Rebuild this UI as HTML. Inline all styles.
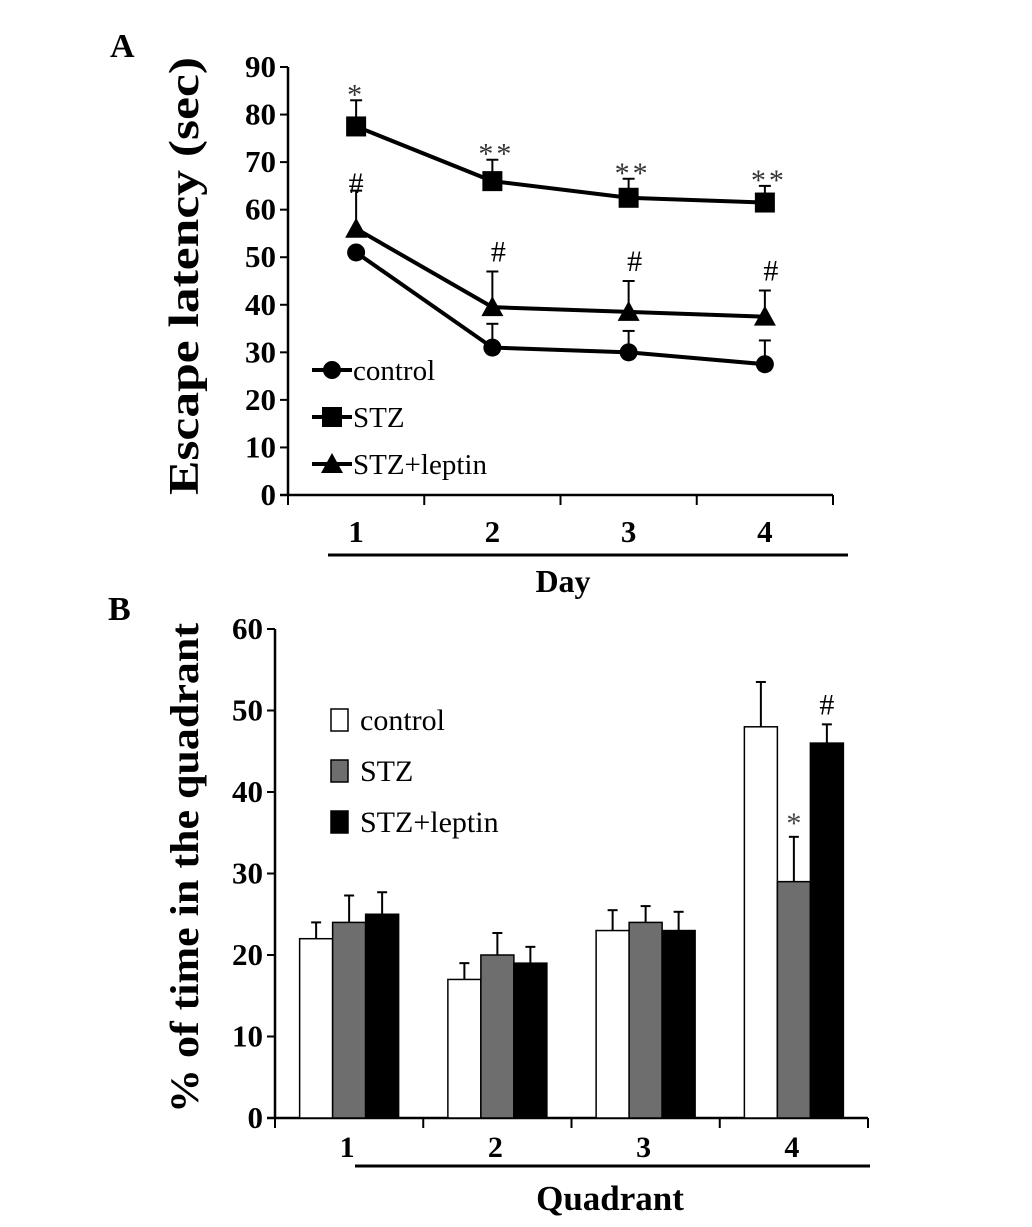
<!DOCTYPE html>
<html><head><meta charset="utf-8"><style>
body{margin:0;background:#fff}
svg{display:block;font-family:"Liberation Serif",serif}
</style></head><body>
<svg id="c" width="1032" height="1227" xmlns="http://www.w3.org/2000/svg"></svg>
<script>
const days=["1","2","3","4"];
const ctrlMean=[51,31,30,27.5];
const ctrlErr=[0,5,4.5,5];
const stzMean=[77.5,66,62.5,61.5];
const stzErr=[5.5,4.5,4,3.5];
const lepMean=[56,39.5,38.5,37.5];
const lepErr=[8,7.5,6.5,5.5];
const stzMarks=["*","**","**","**"];
const lepMarks=["#","#","#","#"];
const aTicks=[0,10,20,30,40,50,60,70,80,90];

const quads=["1","2","3","4"];
const bCtrl=[22,17,23,48];
const bCtrlErr=[2,2,2.5,5.5];
const bStz=[24,20,24,29];
const bStzErr=[3.3,2.7,2,5.5];
const bLep=[25,19,23,46];
const bLepErr=[2.7,2,2.3,2.3];
const bStzMarks=["","","","*"];
const bLepMarks=["","","","#"];
const bTicks=[0,10,20,30,40,50,60];

const svg=document.getElementById('c');
const NS="http://www.w3.org/2000/svg";
function mk(t,a,txt){const e=document.createElementNS(NS,t);for(const k in a)e.setAttribute(k,a[k]);if(txt!==undefined)e.textContent=txt;svg.appendChild(e);return e;}

// Panel A
const ax0=288,ax1=833,ay0=495,ay90=67;
const yA=v=>ay0-(v/90)*(ay0-ay90);
const xA=i=>ax0+(ax1-ax0)/4*(i+0.5);
let e;
e=mk('text',{x:110,y:57,'font-size':34,'font-weight':'bold'},'A');

e=mk('line',{x1:ax0,y1:ay0,x2:ax0,y2:ay90,stroke:'#000','stroke-width':2.5});

e=mk('line',{x1:ax0-8,y1:ay0,x2:ax1,y2:ay0,stroke:'#000','stroke-width':2.5});

aTicks.forEach(v=>{
 e=mk('line',{x1:ax0-8,y1:yA(v),x2:ax0,y2:yA(v),stroke:'#000','stroke-width':2});
 
 e=mk('text',{x:ax0-12,y:yA(v)+10,'font-size':31,'font-weight':'bold','text-anchor':'end'},v);
 
});
for(let i=0;i<=4;i++){
 const x=ax0+(ax1-ax0)/4*i;
 e=mk('line',{x1:x,y1:ay0,x2:x,y2:ay0+10,stroke:'#000','stroke-width':2});
 
}
days.forEach((d,i)=>{
 e=mk('text',{x:xA(i),y:542,'font-size':31,'font-weight':'bold','text-anchor':'middle'},d);
 
});
e=mk('line',{x1:328,y1:555,x2:848,y2:555,stroke:'#000','stroke-width':3});

e=mk('text',{x:563,y:592,'font-size':32,'font-weight':'bold','text-anchor':'middle'},'Day');

e=mk('text',{x:0,y:0,'font-size':42,'font-weight':'bold','text-anchor':'middle',textLength:438,lengthAdjust:'spacingAndGlyphs',transform:'translate(198,276) rotate(-90)'},'Escape latency (sec)');


function marker(type,x,y,name){
 if(type==='circle')e=mk('circle',{cx:x,cy:y,r:9,fill:'#000'});
 else if(type==='square')e=mk('rect',{x:x-10,y:y-10,width:20,height:20,fill:'#000'});
 else e=mk('polygon',{points:`${x},${y-11} ${x+11},${y+9} ${x-11},${y+9}`,fill:'#000'});
 
}
function series(mean,err,type,name){
 mean.forEach((v,i)=>{ if(err[i]>0){
  e=mk('line',{x1:xA(i),y1:yA(v),x2:xA(i),y2:yA(v+err[i]),stroke:'#000','stroke-width':2});
  
  e=mk('line',{x1:xA(i)-6,y1:yA(v+err[i]),x2:xA(i)+6,y2:yA(v+err[i]),stroke:'#000','stroke-width':2});
  
 }});
 e=mk('polyline',{points:mean.map((v,i)=>xA(i)+','+yA(v)).join(' '),fill:'none',stroke:'#000','stroke-width':4});
 
 mean.forEach((v,i)=>marker(type,xA(i),yA(v),name+'-point'));
}
series(ctrlMean,ctrlErr,'circle','control');
series(stzMean,stzErr,'square','stz');
series(lepMean,lepErr,'triangle','stz-leptin');
stzMarks.forEach((m,i)=>{
 e=mk('text',{x:xA(i)+(i?4:0),y:yA(stzMean[i]+stzErr[i])+4,'font-size':30,'text-anchor':'middle',fill:'#333','letter-spacing':3},m);
 
});
lepMarks.forEach((m,i)=>{
 const top=yA(lepMean[i]+lepErr[i])-10;
 e=mk('text',{x:xA(i)+(i?6:0),y:i===0?193:top,'font-size':30,'text-anchor':'middle'},m);
 
});
const legA=[['circle','control',370],['square','STZ',417],['triangle','STZ+leptin',464]];
legA.forEach(l=>{
 e=mk('line',{x1:312,y1:l[2],x2:352,y2:l[2],stroke:'#000','stroke-width':4});
 
 marker(l[0],332,l[2],'legend-marker');
 e=mk('text',{x:353,y:l[2]+10,'font-size':29},l[1]);
 
});

// Panel B
const bx0=275,bx1=868,by0=1118,by60=629;
const yB=v=>by0-(v/60)*(by0-by60);
const gW=(bx1-bx0)/4;
const gc=i=>bx0+gW*(i+0.5);
e=mk('text',{x:108,y:620,'font-size':34,'font-weight':'bold'},'B');

e=mk('line',{x1:bx0,y1:by0,x2:bx0,y2:by60,stroke:'#000','stroke-width':2.5});

e=mk('line',{x1:bx0-8,y1:by0,x2:bx1,y2:by0,stroke:'#000','stroke-width':2.5});

bTicks.forEach(v=>{
 e=mk('line',{x1:bx0-8,y1:yB(v),x2:bx0,y2:yB(v),stroke:'#000','stroke-width':2});
 
 e=mk('text',{x:bx0-12,y:yB(v)+10,'font-size':31,'font-weight':'bold','text-anchor':'end'},v);
 
});
for(let i=0;i<=4;i++){
 const x=bx0+gW*i;
 e=mk('line',{x1:x,y1:by0,x2:x,y2:by0+10,stroke:'#000','stroke-width':2});
 
}
quads.forEach((q,i)=>{
 e=mk('text',{x:gc(i)-2,y:1157,'font-size':30,'font-weight':'bold','text-anchor':'middle'},q);
 
});
e=mk('line',{x1:355,y1:1166,x2:870,y2:1166,stroke:'#000','stroke-width':3});

e=mk('text',{x:610,y:1210,'font-size':35,'font-weight':'bold','text-anchor':'middle'},'Quadrant');

e=mk('text',{x:0,y:0,'font-size':40,'font-weight':'bold','text-anchor':'middle',textLength:490,lengthAdjust:'spacingAndGlyphs',transform:'translate(198,868) rotate(-90)'},'% of time in the quadrant');

const bw=33;
function bars(vals,errs,k,fill,name){
 vals.forEach((v,i)=>{
  const x=gc(i)-1.5*bw+k*bw;
  e=mk('line',{x1:x+bw/2,y1:yB(v),x2:x+bw/2,y2:yB(v+errs[i]),stroke:'#000','stroke-width':2});
  
  e=mk('line',{x1:x+bw/2-5,y1:yB(v+errs[i]),x2:x+bw/2+5,y2:yB(v+errs[i]),stroke:'#000','stroke-width':2});
  
  e=mk('rect',{x:x,y:yB(v),width:bw,height:by0-yB(v),fill:fill,stroke:'#000','stroke-width':1.5});
  
 });
}
bars(bCtrl,bCtrlErr,0,'#fff','control');
bars(bStz,bStzErr,1,'#6e6e6e','stz');
bars(bLep,bLepErr,2,'#000','stz-leptin');
bStzMarks.forEach((m,i)=>{ if(m){
 e=mk('text',{x:gc(i),y:yB(bStz[i]+bStzErr[i])-4,'font-size':30,'text-anchor':'middle',fill:'#444'},m);
 }});
bLepMarks.forEach((m,i)=>{ if(m){
 e=mk('text',{x:gc(i)+bw,y:yB(bLep[i]+bLepErr[i])-10,'font-size':30,'text-anchor':'middle'},m);
 }});
const legB=[['#fff','control',720],['#6e6e6e','STZ',771],['#000','STZ+leptin',822]];
legB.forEach(l=>{
 e=mk('rect',{x:331,y:l[2]-11,width:17,height:22,fill:l[0],stroke:'#000','stroke-width':1.5});
 
 e=mk('text',{x:360,y:l[2]+10,'font-size':30},l[1]);
 
});
</script>
</body></html>
